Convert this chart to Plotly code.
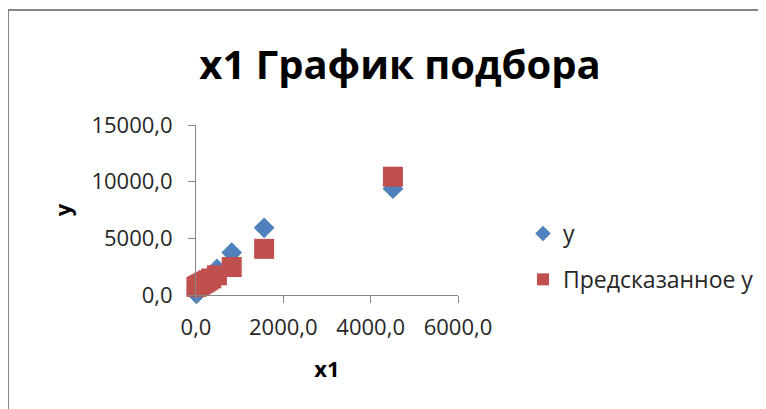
import plotly.graph_objects as go

# Data
x1 = [10, 40, 80, 120, 170, 220, 280, 350, 480, 818, 1560, 4510]
y_actual = [100, 250, 450, 650, 900, 1150, 1400, 1700, 2300, 3740, 5930, 9380]
y_pred = [720, 790, 870, 960, 1070, 1180, 1300, 1460, 1740, 2470, 4070, 10440]

x_tickvals = [0, 2000, 4000, 6000]
x_ticktext = ["0,0", "2000,0", "4000,0", "6000,0"]
y_tickvals = [0, 5000, 10000, 15000]
y_ticktext = ["0,0", "5000,0", "10000,0", "15000,0"]

title_text = "x1 График подбора"
series_names = ["y", "Предсказанное y"]

BLUE = "#4F81BD"
RED = "#C0504D"
AXIS = "#868686"
FONT = "Open Sans"

OFF = 8  # page body margin
W, H = 766 - OFF, 409 - OFF
# plot area in page pixels
PX0, PX1, PY0, PY1 = 196, 458, 125, 295
L, R, T, B = PX0 - OFF, W - (PX1 - OFF), PY0 - OFF, H - (PY1 - OFF)
PW = W - L - R
PH = H - T - B


def px_to_paper_x(px):
    return (px - OFF - L) / PW


def py_to_paper_y(py):
    return (H - B - (py - OFF)) / PH


fig = go.Figure()
fig.add_trace(go.Scatter(
    x=x1, y=y_actual, mode="markers", name=series_names[0],
    legendgroup="a", cliponaxis=False,
    marker=dict(symbol="diamond", size=16, color=BLUE, line=dict(width=0)),
))
fig.add_trace(go.Scatter(
    x=x1, y=y_pred, mode="markers", name=series_names[1],
    legendgroup="b", cliponaxis=False,
    marker=dict(symbol="square", size=20, color=RED, line=dict(width=0)),
))

fig.update_layout(
    width=W, height=H,
    margin=dict(l=L, r=R, t=T, b=B, autoexpand=False),
    paper_bgcolor="white", plot_bgcolor="white",
    font=dict(family=FONT, color="#262626", size=22),
    title=dict(text="<b>" + title_text + "</b>", font=dict(size=40, color="black", family=FONT),
               x=(400 - OFF) / W, xref="container", xanchor="center",
               y=1 - (65 - OFF) / H, yref="container", yanchor="middle"),
    showlegend=True,
    legend=dict(x=px_to_paper_x(523), xanchor="left", y=py_to_paper_y(212), yanchor="top",
                font=dict(size=23, family=FONT, color="#262626"),
                itemsizing="constant", tracegroupgap=13, bgcolor="rgba(0,0,0,0)"),
    xaxis=dict(range=[0, 6000], tickvals=x_tickvals, ticktext=x_ticktext,
               showgrid=False, zeroline=False, showline=True, linecolor=AXIS, linewidth=1,
               ticks="outside", ticklen=7, tickcolor=AXIS, ticklabelstandoff=6,
               title=dict(text="<b>x1</b>", font=dict(size=22, color="black"), standoff=21)),
    yaxis=dict(range=[0, 15000], tickvals=y_tickvals, ticktext=y_ticktext,
               showgrid=False, zeroline=False, showline=True, linecolor=AXIS, linewidth=1,
               ticks="outside", ticklen=7, tickcolor=AXIS, ticklabelstandoff=11,
               title=dict(text="<b>y</b>", font=dict(size=22, color="black"), standoff=13)),
    shapes=[dict(type="rect", xref="paper", yref="paper",
                 x0=px_to_paper_x(8), x1=px_to_paper_x(830),
                 y0=py_to_paper_y(440), y1=py_to_paper_y(10),
                 line=dict(color=AXIS, width=2), fillcolor="rgba(0,0,0,0)", layer="below")],
)

fig.write_html("out.html")
